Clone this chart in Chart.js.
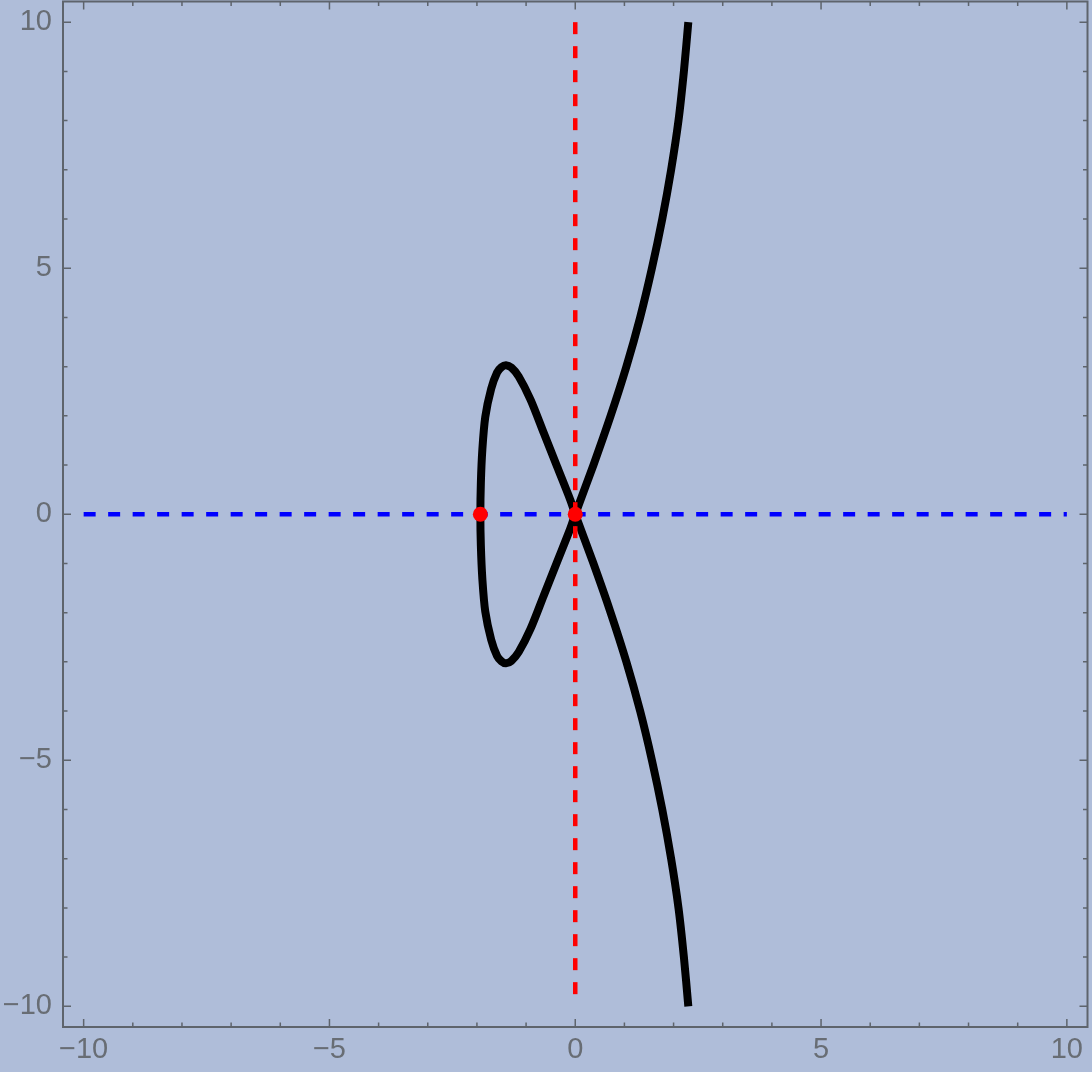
<!DOCTYPE html>
<html>
<head>
<meta charset="utf-8">
<script src="https://cdn.jsdelivr.net/npm/chart.js@4/dist/chart.umd.min.js"></script>
<style>
  html, body { margin: 0; padding: 0; background: #afbdd9; overflow: hidden; }
  #wrap { width: 1092px; height: 1072px; overflow: hidden; }
  /* the scale keeps a few px of label padding on top/right, so the canvas is shifted to cancel it */
  #plot { display: block; margin-top: -6px; }
</style>
</head>
<body>
<div id="wrap"><canvas id="plot" width="1095" height="1078"></canvas></div>
<script>
// curve, in drawing order (top right -> node -> loop -> node -> bottom right)
const curveX = [
  2.30, 2.21, 2.10, 1.95, 1.77, 1.56, 1.32, 1.04, 0.72, 0.37, 0,
  -0.10, -0.37, -0.64, -0.91, -1.15, -1.30, -1.41, -1.50, -1.59, -1.71, -1.83, -1.89, -1.92, -1.93,
  -1.92, -1.89, -1.83, -1.71, -1.59, -1.50, -1.41, -1.30, -1.15, -0.91, -0.64, -0.37, -0.10,
  0, 0.37, 0.72, 1.04, 1.32, 1.56, 1.77, 1.95, 2.10, 2.21, 2.30,
];
const curveY = [
  10.0, 9.0, 8.0, 7.0, 6.0, 5.0, 4.0, 3.0, 2.0, 1.0, 0,
  -0.29, -0.97, -1.65, -2.33, -2.80, -2.98, -3.03, -2.99, -2.88, -2.55, -1.98, -1.31, -0.64, 0,
  0.64, 1.31, 1.98, 2.55, 2.88, 2.99, 3.03, 2.98, 2.80, 2.33, 1.65, 0.97, 0.29,
  0, -1.0, -2.0, -3.0, -4.0, -5.0, -6.0, -7.0, -8.0, -9.0, -10.0,
];

// dashed reference lines and marked points
const vLineX = [0, 0];
const vLineY = [10, -10];
const hLineX = [-10, 10];
const hLineY = [0, 0];
const markX = [-1.93, 0];
const markY = [0, 0];

// ticks
const tickValues = [-10, -9, -8, -7, -6, -5, -4, -3, -2, -1, 0, 1, 2, 3, 4, 5, 6, 7, 8, 9, 10];
const majorTicks = [-10, -5, 0, 5, 10];
const tickLabels = ["\u221210", "\u22125", "0", "5", "10"];

const bg = "#afbdd9";
const frameColor = "#5e646c";
const labelColor = "#686d74";

const pts = (xs, ys) => xs.map((x, i) => ({ x: x, y: ys[i] }));

const framePlugin = {
  id: "frame",
  beforeDraw(chart) {
    const { ctx, width, height } = chart;
    ctx.save();
    ctx.fillStyle = bg;
    ctx.fillRect(0, 0, width, height);
    ctx.restore();
  },
  afterDraw(chart) {
    const { ctx, chartArea: a, scales } = chart;
    ctx.save();
    ctx.strokeStyle = frameColor;
    ctx.lineWidth = 2;
    ctx.strokeRect(a.left, a.top, a.right - a.left, a.bottom - a.top);
    ctx.lineWidth = 1.5;
    ctx.beginPath();
    tickValues.forEach((v) => {
      const len = majorTicks.includes(v) ? 8 : 4.5;
      const px = scales.x.getPixelForValue(v);
      const py = scales.y.getPixelForValue(v);
      ctx.moveTo(px, a.bottom); ctx.lineTo(px, a.bottom - len);
      ctx.moveTo(px, a.top); ctx.lineTo(px, a.top + len);
      ctx.moveTo(a.left, py); ctx.lineTo(a.left + len, py);
      ctx.moveTo(a.right, py); ctx.lineTo(a.right - len, py);
    });
    ctx.stroke();
    ctx.restore();
  },
};

const tickCallback = (value) => {
  const i = majorTicks.indexOf(value);
  return i >= 0 ? tickLabels[i] : "";
};

const setTicks = (scale) => {
  scale.ticks = tickValues.map((v) => ({ value: v }));
};

const tickFont = { family: "'Liberation Sans', Arial, sans-serif", size: 29 };

new Chart(document.getElementById("plot"), {
  type: "scatter",
  data: {
    datasets: [
      {
        label: "marks",
        data: pts(markX, markY),
        pointRadius: 7.5,
        pointBackgroundColor: "#ff0000",
        pointBorderWidth: 0,
        showLine: false,
        order: 0,
      },
      {
        label: "vertical",
        data: pts(vLineX, vLineY),
        showLine: true,
        borderColor: "#ff0000",
        borderWidth: 4.5,
        borderDash: [12, 12],
        pointRadius: 0,
        order: 1,
      },
      {
        label: "horizontal",
        data: pts(hLineX, hLineY),
        showLine: true,
        borderColor: "#0000ff",
        borderWidth: 4.5,
        borderDash: [12, 12.5],
        pointRadius: 0,
        order: 1,
      },
      {
        label: "curve",
        data: pts(curveX, curveY),
        showLine: true,
        borderColor: "#000000",
        borderWidth: 8,
        borderJoinStyle: "round",
        tension: 0.3,
        pointRadius: 0,
        order: 2,
      },
    ],
  },
  options: {
    responsive: false,
    animation: false,
    layout: { padding: 0 },
    plugins: {
      legend: { display: false },
      tooltip: { enabled: false },
    },
    scales: {
      x: {
        type: "linear",
        min: -10.42,
        max: 10.42,
        afterBuildTicks: setTicks,
        afterFit: (s) => {
          s.height = 45;
          s.paddingLeft = 0;
          s.paddingRight = 0;
        },
        grid: { display: false, drawTicks: false },
        border: { display: false },
        ticks: {
          callback: tickCallback,
          autoSkip: false,
          maxRotation: 0,
          padding: 6,
          color: labelColor,
          font: tickFont,
        },
      },
      y: {
        type: "linear",
        min: -10.42,
        max: 10.42,
        afterBuildTicks: setTicks,
        afterFit: (s) => {
          s.width = 63;
          s.paddingTop = 0;
          s.paddingBottom = 0;
        },
        grid: { display: false, drawTicks: false },
        border: { display: false },
        ticks: {
          callback: tickCallback,
          autoSkip: false,
          padding: 11,
          color: labelColor,
          font: tickFont,
        },
      },
    },
  },
  plugins: [framePlugin],
});
</script>
</body>
</html>
